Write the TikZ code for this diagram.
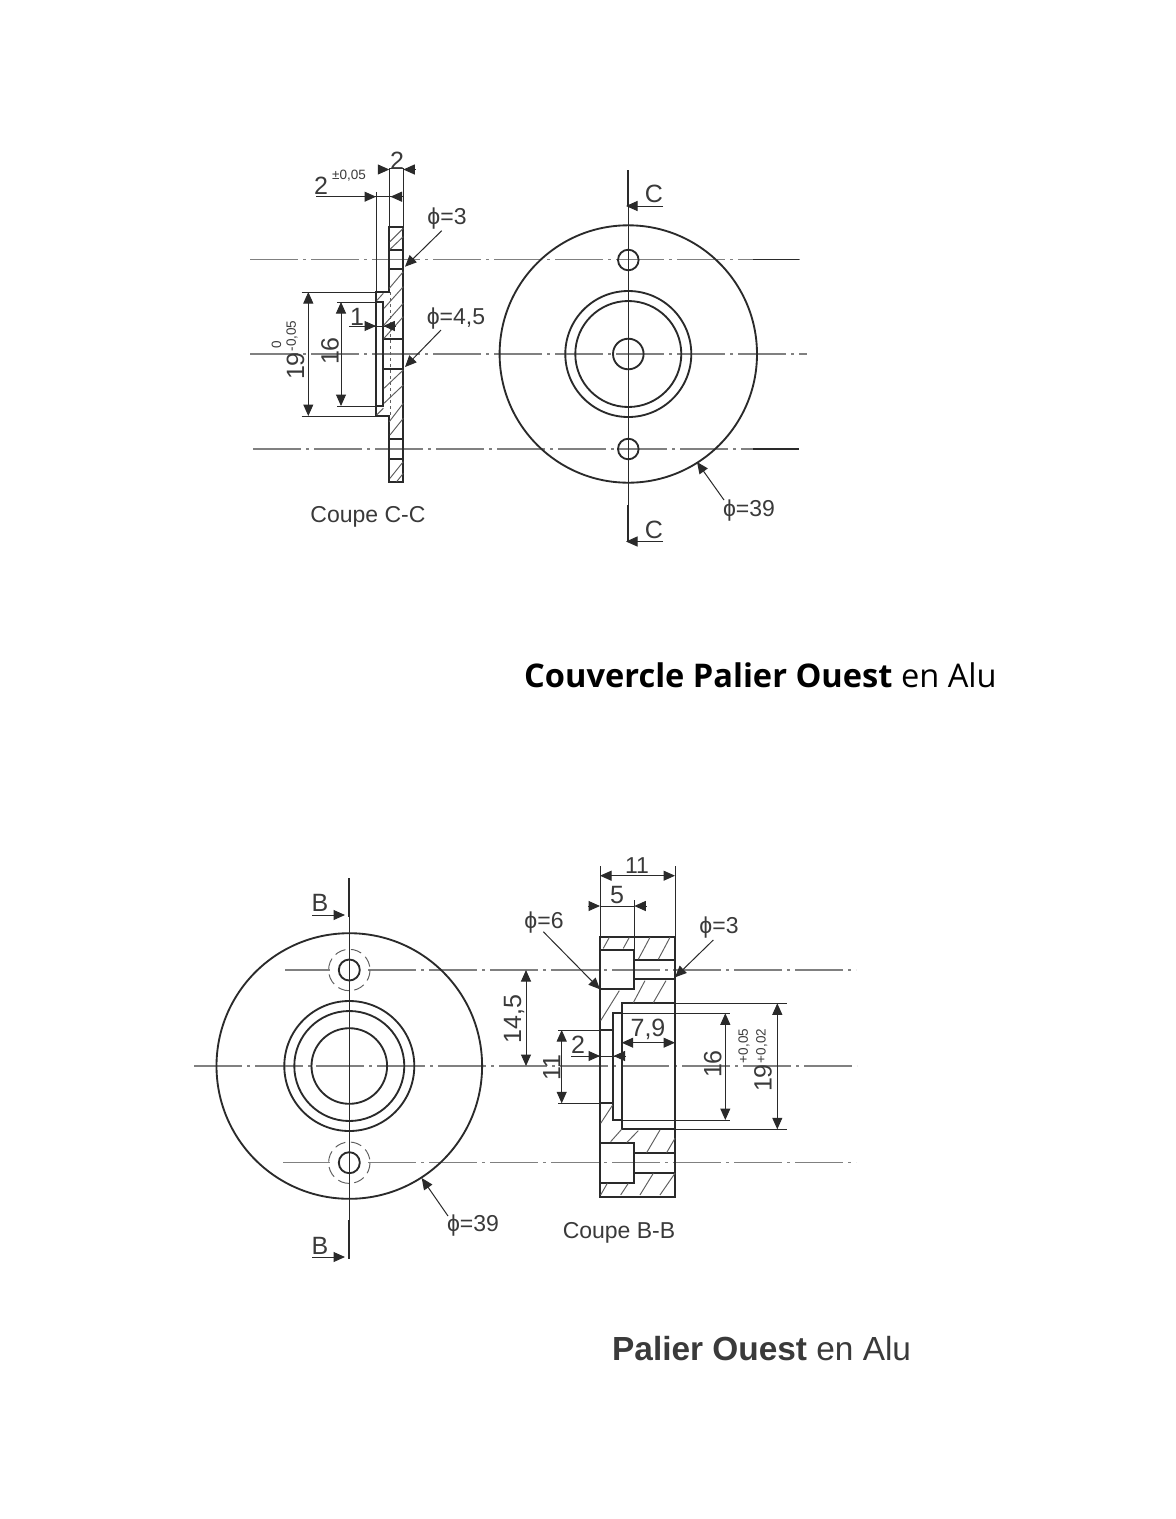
\documentclass[tikz,border=0pt]{standalone}
\usepackage{fontspec}
\setmainfont{Liberation Sans}
\newfontfamily\titlefont{Open Sans}
\usetikzlibrary{arrows.meta}
\definecolor{inkgray}{HTML}{2A2A2A}
\definecolor{textgray}{HTML}{3A3A3A}
\definecolor{axisgray}{HTML}{5E5E5E}
\definecolor{centergray}{HTML}{808080}
\tikzset{
	outline/.style={draw=inkgray,line width=1.85pt},
	thinline/.style={draw=inkgray,line width=1pt},
	hatchline/.style={draw=axisgray,line width=.95pt},
	axisline/.style={draw=centergray,line width=1.3pt,dash pattern=on 48pt off 5pt on 3pt off 5pt},
	cutline/.style={draw=inkgray,line width=2.3pt},
	dimline/.style={thinline,{Triangle[length=11.5pt,width=10pt]}-{Triangle[length=11.5pt,width=10pt]}},
	tipend/.style={thinline,-{Triangle[length=11.5pt,width=10pt]}},
	lab/.style={text=textgray,inner sep=0pt,yshift=-2pt,font=\fontsize{23}{23}\selectfont},
	biglab/.style={lab,font=\fontsize{25}{25}\selectfont},
	vlab/.style={text=textgray,inner sep=0pt,rotate=90,font=\fontsize{25}{25}\selectfont},
	smalllab/.style={text=textgray,inner sep=0pt,font=\fontsize{13.5}{14}\selectfont},
}
\begin{document}
\begin{tikzpicture}[x=1pt,y=-1pt]
	\useasboundingbox[fill=white] (0,0) rectangle (1176,1519);
	% Coupe C-C, axes
	\draw[axisline] (250,259.5) -- (800,259.5);
	\draw[axisline] (250,354) -- (807,354);
	\draw[axisline] (253,449) -- (800,449);
	\draw[outline,line width=1.5pt] (753,259.5) -- (799,259.5);
	\draw[outline,line width=1.5pt] (753,449) -- (799,449);
	% Coupe C-C, section
	\draw[outline] (389.3,226.7) -- (403.3,226.7) -- (403.3,481.7) -- (389.3,481.7) -- (389.3,416) -- (376,416) -- (376,292) -- (389.3,292) -- cycle;
	\draw[outline] (376,302) -- (383.3,302) -- (383.3,406) -- (376,406);
	\draw[outline] (383.3,339.3) -- (403.3,339.3);
	\draw[outline] (383.3,369.3) -- (403.3,369.3);
	\draw[outline] (389.3,250) -- (403.3,250);
	\draw[outline] (389.3,269.3) -- (403.3,269.3);
	\draw[outline] (389.3,439.3) -- (403.3,439.3);
	\draw[outline] (389.3,459) -- (403.3,459);
	\draw[hatchline,dashed] (390,292) -- (390,416);
	\begin{scope}[shift={(240,140)},x=.3333pt,y=-.3333pt]
		\foreach \xa/\ya/\xb/\yb in {450/305/490/265,450/328/490/290,448/445/490/395,432/505/490/440,432/555/490/490,432/595/490/530,432/745/490/690,432/790/490/735,448/845/490/790,450/885/490/835,450/1015/490/965,470/1025/490/1000,410/482/430/460,410/825/430/805}
			\draw[hatchline] (\xa,\ya) -- (\xb,\yb);
	\end{scope}
	% Coupe C-C, dimensions
	\draw[thinline] (376,292) -- (376,192);
	\draw[thinline] (389.3,226.7) -- (389.3,168);
	\draw[thinline] (403.3,226.7) -- (403.3,168) -- (389.3,168);
	\draw[tipend] (378,169.5) -- (389.3,169.5);
	\draw[tipend] (415,169.5) -- (403.3,169.5);
	\draw[thinline] (316,196.7) -- (400,196.7);
	\draw[tipend] (364,196.7) -- (376,196.7);
	\draw[tipend] (402,196.7) -- (390.5,196.7);
	\draw[thinline] (301.7,292) -- (376,292);
	\draw[thinline] (301.7,416) -- (376,416);
	\draw[dimline] (308.3,292) -- (308.3,416);
	\draw[thinline] (337,302) -- (376,302);
	\draw[thinline] (337,406) -- (376,406);
	\draw[dimline] (341,302) -- (341,406);
	\draw[thinline] (349,326) -- (394,326);
	\draw[tipend] (364,326) -- (376,326);
	\draw[tipend] (395,326) -- (383.3,326);
	\node[biglab] (wallTwo) at (397,159) {2};
	\node[biglab] (lipTwo) at (321,184) {2};
	\node[smalllab] (lipTol) at (349,176) {±0,05};
	\node[vlab] (boreNineteen) at (295.5,366) {19};
	\node[smalllab,rotate=90] (boreTolA) at (292,336) {-0,05};
	\node[smalllab,rotate=90] (boreTolB) at (276.5,345) {0};
	\node[vlab] (boreSixteen) at (330,351) {16};
	\node[biglab] (recessOne) at (357,315) {1};
	\node[lab] (holeThree) at (447,217) {ϕ=3};
	\node[lab] (holeFour) at (456,317) {ϕ=4,5};
	\draw[tipend] (441.7,230.7) -- (405,266.7);
	\draw[tipend] (441,330) -- (405,367);
	\node[lab] (captionC) at (368,514.5) {Coupe C-C};
	% vue de face, couvercle
	\draw[thinline] (628.3,206) -- (628.3,505);
	\draw[outline] (628.3,354) circle (128.7);
	\draw[outline] (628.3,354) circle (63);
	\draw[outline] (628.3,354) circle (53);
	\draw[outline] (628.3,354) circle (15.3);
	\draw[outline] (628.3,260) circle (10.3);
	\draw[outline] (628.3,449) circle (10.3);
	\draw[cutline] (628.3,170) -- (628.3,206);
	\draw[cutline] (628.3,505) -- (628.3,541.5);
	\draw[tipend] (663,206) -- (626,206);
	\draw[tipend] (663,541.5) -- (626,541.5);
	\node[biglab] (cutTop) at (654,192) {C};
	\node[biglab] (cutBottom) at (654,528) {C};
	\node[lab] (coverDia) at (749,509) {ϕ=39};
	\draw[tipend] (724,500) -- (697,462);
	\node[anchor=base west,inner sep=0pt,text=black,font=\titlefont\fontsize{32.6}{33}\selectfont] (titleCover) at (524,687) {\textbf{Couvercle Palier Ouest} en Alu};
	% vue de face, palier
	\draw[axisline] (285,970) -- (330,970);
	\draw[axisline] (368,970) -- (856,970);
	\draw[axisline] (283,1162.7) -- (330,1162.7);
	\draw[axisline] (368,1162.7) -- (856,1162.7);
	\draw[axisline] (194,1066) -- (857,1066);
	\draw[thinline] (349.3,917) -- (349.3,1220);
	\draw[outline] (349.3,1066) circle (132.8);
	\draw[outline] (349.3,1066) circle (65);
	\draw[outline] (349.3,1066) circle (55);
	\draw[outline] (349.3,1066) circle (37.8);
	\draw[outline] (349.3,970) circle (10.5);
	\draw[outline] (349.3,1162.7) circle (10.5);
	\draw[hatchline,dash pattern=on 11pt off 5.5pt] (349.3,970) circle (20.7);
	\draw[hatchline,dash pattern=on 11pt off 5.5pt] (349.3,1162.7) circle (20.7);
	\draw[cutline] (349.3,878) -- (349.3,917);
	\draw[cutline] (349.3,1220) -- (349.3,1259);
	\draw[tipend] (312,915) -- (345,915);
	\draw[tipend] (312,1257) -- (345,1257);
	\node[biglab] (cutBa) at (320,901) {B};
	\node[biglab] (cutBb) at (320,1244) {B};
	\node[lab] (bodyDia) at (473,1224) {ϕ=39};
	\draw[tipend] (448,1216) -- (421.7,1178);
	% Coupe B-B, section
	\draw[outline] (600,936.7) rectangle (675,1196.7);
	\draw[outline] (600,950) rectangle (634.3,989.3);
	\draw[outline] (600,1143.3) rectangle (634.3,1182.7);
	\draw[outline] (634.3,960) -- (675,960);
	\draw[outline] (634.3,979.3) -- (675,979.3);
	\draw[outline] (634.3,1153.3) -- (675,1153.3);
	\draw[outline] (634.3,1172.7) -- (675,1172.7);
	\draw[outline] (675,1003.3) -- (621.7,1003.3) -- (621.7,1129.3) -- (675,1129.3);
	\draw[outline] (621.7,1013.3) -- (613.3,1013.3) -- (613.3,1120) -- (621.7,1120);
	\draw[outline] (600,1030) -- (613.3,1030);
	\draw[outline] (600,1103.3) -- (613.3,1103.3);
	\begin{scope}[shift={(490,860)},x=.3333pt,y=-.3333pt]
		\foreach \xa/\ya/\xb/\yb in {340/265/358/232,400/265/418/232,445/298/480/232,505/298/540/232,430/428/465/362,490/428/528/362,332/482/388/392,332/790/368/735,362/845/395/808,410/848/445/812,470/878/510/810,530/878/555/835,332/1005/352/970,392/1005/415/970,450/1005/490/940,510/1005/555/940}
			\draw[hatchline] (\xa,\ya) -- (\xb,\yb);
	\end{scope}
	% Coupe B-B, dimensions
	\draw[thinline] (600,936.7) -- (600,866);
	\draw[thinline] (675,936.7) -- (675,866);
	\draw[thinline] (634.3,950) -- (634.3,900);
	\draw[dimline] (600,875.7) -- (675,875.7);
	\draw[thinline] (600,906) -- (634.3,906);
	\draw[tipend] (588,906) -- (600,906);
	\draw[tipend] (646,906) -- (634.3,906);
	\draw[thinline] (675,1003.3) -- (786.7,1003.3);
	\draw[thinline] (675,1129.3) -- (786.7,1129.3);
	\draw[thinline] (621.7,1013.3) -- (730,1013.3);
	\draw[thinline] (621.7,1120) -- (730,1120);
	\draw[thinline] (558,1030) -- (600,1030);
	\draw[thinline] (558,1103.3) -- (600,1103.3);
	\draw[dimline] (526,970) -- (526,1066);
	\draw[dimline] (561.7,1030) -- (561.7,1103.3);
	\draw[thinline] (571,1056) -- (625,1056);
	\draw[tipend] (588,1056) -- (600,1056);
	\draw[tipend] (625,1056) -- (613.5,1056);
	\draw[dimline] (621.7,1042.7) -- (675,1042.7);
	\draw[dimline] (725.3,1013.3) -- (725.3,1120);
	\draw[dimline] (777.3,1003.3) -- (777.3,1129.3);
	\node[lab] (widthEleven) at (637,864) {11};
	\node[biglab] (cboreFive) at (617,893) {5};
	\node[lab] (cboreSix) at (544,921) {ϕ=6};
	\node[lab] (drillThree) at (719,926) {ϕ=3};
	\draw[tipend] (543.3,931.7) -- (600,989.3);
	\draw[tipend] (713.3,940) -- (675,977.3);
	\node[vlab] (pitchBB) at (514,1019) {14,5};
	\node[vlab] (throughEleven) at (551.7,1068) {11};
	\node[biglab] (stepTwo) at (578,1043) {2};
	\node[biglab] (depthBB) at (648,1027) {7,9};
	\node[vlab] (innerSixteen) at (712.7,1064) {16};
	\node[vlab] (outerNineteen) at (763,1078) {19};
	\node[smalllab,rotate=90] (tolUp) at (744,1046) {+0,05};
	\node[smalllab,rotate=90] (tolLow) at (761.7,1046) {+0,02};
	\node[lab] (captionB) at (619,1230.5) {Coupe B-B};
	\node[anchor=base west,inner sep=0pt,text=textgray,font=\fontsize{33.4}{34}\selectfont] (titleBody) at (612,1360) {\textbf{Palier Ouest} en Alu};
\end{tikzpicture}
\end{document}
